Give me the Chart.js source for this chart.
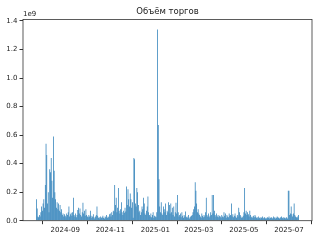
<!DOCTYPE html>
<html>
<head>
<meta charset="utf-8">
<script src="https://cdn.jsdelivr.net/npm/chart.js@4"></script>
<style>
    body { margin: 0; background: #fff; }
    canvas { display: block; }
</style>
</head>
<body>
<canvas id="volumeChart" width="320" height="240"></canvas>
<script>
// Daily trading volume, millions, starting 2024-07-24
const jul24 = [150, 85, 30, 25, 40, 30, 60, 100];
const aug24 = [70, 120, 150, 90, 250, 540, 460, 120, 200, 60, 360, 340, 440, 280, 160, 590, 350, 200, 150, 90, 130, 80, 120, 70, 110, 60, 80, 40, 50, 30, 45];
const sep24 = [35, 25, 50, 40, 60, 100, 30, 45, 55, 35, 60, 160, 40, 30, 50, 25, 40, 75, 90, 50, 85, 40, 30, 60, 125, 50, 70, 35, 80, 40];
const oct24 = [30, 25, 40, 30, 70, 35, 20, 30, 45, 25, 15, 30, 40, 100, 35, 20, 25, 15, 30, 20, 25, 35, 20, 15, 30, 25, 40, 20, 30, 25, 45];
const nov24 = [50, 30, 60, 40, 70, 65, 250, 110, 160, 60, 90, 230, 70, 50, 80, 130, 60, 40, 70, 55, 90, 65, 240, 110, 220, 150, 100, 190, 150, 90];
const dec24 = [130, 20, 440, 430, 120, 100, 230, 200, 110, 60, 70, 40, 60, 100, 80, 160, 120, 50, 40, 70, 100, 170, 60, 40, 30, 50, 25, 40, 60, 20, 35];
const jan25 = [30, 25, 60, 1340, 670, 290, 100, 60, 130, 50, 40, 100, 80, 60, 120, 40, 70, 60, 130, 110, 50, 120, 60, 90, 40, 100, 30, 60, 125, 50, 180];
const feb25 = [60, 30, 40, 50, 25, 60, 35, 20, 40, 30, 65, 25, 30, 20, 40, 15, 25, 30, 35, 40, 60, 80, 100, 270, 210, 120, 60, 80];
const mar25 = [50, 40, 30, 20, 50, 35, 25, 40, 30, 60, 160, 40, 30, 50, 25, 35, 60, 40, 180, 50, 180, 70, 40, 30, 50, 30, 40, 25, 35, 30, 20];
const apr25 = [40, 30, 25, 60, 35, 50, 20, 40, 30, 25, 50, 35, 40, 120, 30, 45, 25, 35, 50, 30, 20, 40, 30, 90, 60, 40, 30, 20, 25, 35];
const may25 = [60, 230, 50, 70, 40, 60, 45, 30, 70, 40, 25, 30, 20, 35, 25, 40, 30, 20, 25, 15, 30, 20, 15, 25, 20, 30, 15, 20, 25, 15, 20];
const jun25 = [15, 25, 20, 30, 15, 20, 25, 20, 15, 30, 20, 25, 15, 20, 30, 25, 20, 15, 20, 25, 30, 20, 15, 25, 20, 15, 20, 25, 15, 210];
const jul25 = [210, 40, 50, 100, 45, 30, 50, 120, 40, 30, 25, 20, 30, 40];

const volumes = [].concat(jul24, aug24, sep24, oct24, nov24, dec24, jan25, feb25, mar25, apr25, may25, jun25, jul25);

// x ticks: days since 2024-07-24
const xTickDays = [39, 100, 161, 220, 281, 342];
const xTickLabels = ['2024-09', '2024-11', '2025-01', '2025-03', '2025-05', '2025-07'];
const yTickValues = [0, 200, 400, 600, 800, 1000, 1200, 1400];

const chartTitle = 'Объём торгов';

const framePlugin = {
    id: 'frame',
    afterDraw(chart) {
        const { ctx, chartArea: a } = chart;
        ctx.save();
        ctx.strokeStyle = '#333';
        ctx.lineWidth = 0.8;
        ctx.strokeRect(a.left, a.top, a.right - a.left, a.bottom - a.top);
        ctx.fillStyle = '#222';
        ctx.textBaseline = 'alphabetic';
        ctx.font = '7px "DejaVu Sans"';
        ctx.textAlign = 'left';
        ctx.fillText('1e9', a.left, a.top - 3.5);
        ctx.font = '8.5px "DejaVu Sans"';
        ctx.textAlign = 'center';
        ctx.fillText(chartTitle, (a.left + a.right) / 2, a.top - 5.5);
        ctx.restore();
    }
};

const ctx = document.getElementById('volumeChart').getContext('2d');
new Chart(ctx, {
    type: 'bar',
    data: {
        datasets: [{
            data: volumes.map((v, i) => ({ x: i, y: v })),
            backgroundColor: '#1f77b4',
            borderWidth: 0,
            categoryPercentage: 0.96,
            barPercentage: 1
        }]
    },
    options: {
        responsive: false,
        animation: false,
        devicePixelRatio: 1,
        layout: { padding: { top: 19.5, right: 8, left: 0, bottom: 0 } },
        plugins: {
            legend: { display: false },
            tooltip: { enabled: false },
            title: { display: false }
        },
        scales: {
            x: {
                type: 'linear',
                min: -18.2,
                max: 373.2,
                offset: false,
                border: { display: false },
                grid: { drawOnChartArea: false, drawTicks: true, tickLength: 3.5, tickColor: '#333' },
                ticks: {
                    color: '#222',
                    font: { family: 'DejaVu Sans', size: 7 },
                    padding: 2,
                    maxRotation: 0,
                    autoSkip: false,
                    callback: (v) => xTickLabels[xTickDays.indexOf(v)]
                },
                afterBuildTicks: (scale) => {
                    scale.ticks = xTickDays.map(v => ({ value: v }));
                },
                afterFit: (scale) => { scale.height = 19.3; }
            },
            y: {
                min: 0,
                max: 1410,
                border: { display: false },
                grid: { drawOnChartArea: false, drawTicks: true, tickLength: 3.5, tickColor: '#333' },
                ticks: {
                    color: '#222',
                    font: { family: 'DejaVu Sans', size: 7 },
                    padding: 2,
                    callback: (v) => (v / 1000).toFixed(1)
                },
                afterBuildTicks: (scale) => {
                    scale.ticks = yTickValues.map(v => ({ value: v }));
                },
                afterFit: (scale) => { scale.width = 23; }
            }
        }
    },
    plugins: [framePlugin]
});
</script>
</body>
</html>
